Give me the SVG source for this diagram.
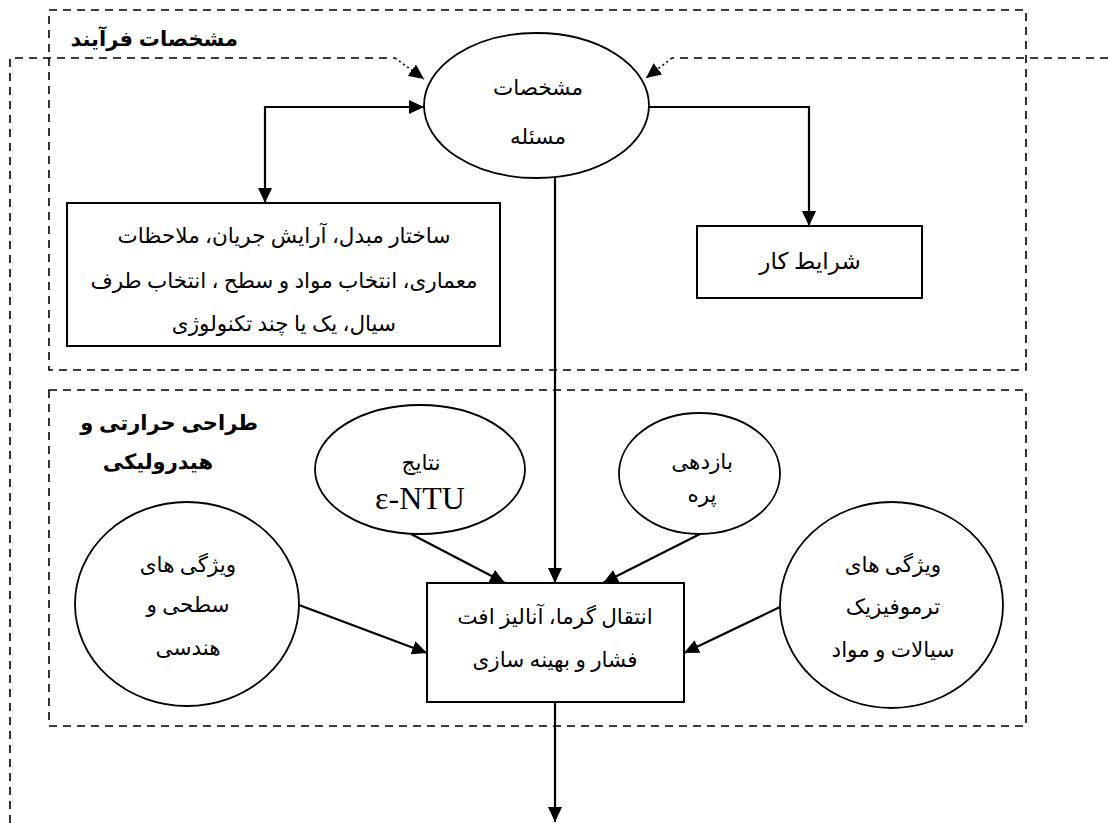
<svg xmlns="http://www.w3.org/2000/svg" width="1108" height="823" viewBox="0 0 1108 823">
<defs>
<style>
.dash{fill:none;stroke:#000;stroke-width:1.6;stroke-dasharray:8 6}
.dot{fill:none;stroke:#000;stroke-width:1.6;stroke-dasharray:2 3}
.conn{fill:none;stroke:#000;stroke-width:2.2}
.shape{fill:#fff;stroke:#000;stroke-width:1.8}
.box{fill:#fff;stroke:#000;stroke-width:2}
.t{font-family:"Liberation Serif","DejaVu Sans",serif;font-size:21.5px;fill:#000;text-anchor:middle;direction:rtl}
.title{font-family:"Liberation Sans","DejaVu Sans",sans-serif;font-size:21px;font-weight:bold;fill:#000;text-anchor:start;direction:rtl}
.lat{font-family:"Liberation Serif",serif;font-size:32px;fill:#000;text-anchor:middle}
</style>
<marker id="ah" markerUnits="userSpaceOnUse" markerWidth="16" markerHeight="14" refX="15" refY="7" orient="auto-start-reverse">
<path d="M0,0 L15,7 L0,14 z" fill="#000"/>
</marker>
</defs>
<rect width="1108" height="823" fill="#fff"/>

<g id="group-process">
<rect class="dash" x="49" y="10" width="977" height="360"/>
<text class="title" x="238" y="46">مشخصات فرآیند</text>
</g>
<g id="group-thermal">
<rect class="dash" x="49" y="390" width="977" height="336"/>
<text class="title" x="258" y="430">طراحی حرارتی و</text>
<text class="title" x="213" y="469">هیدرولیکی</text>
</g>

<g id="connectors">
<path class="dash" d="M10 823 L10 58 L395 58"/>
<path class="dot" d="M395 58 L424 79" marker-end="url(#ah)"/>
<path class="dash" d="M1108 58 L672 58"/>
<path class="dot" d="M672 58 L646 78" marker-end="url(#ah)"/>
<path class="conn" d="M424 107 L265 107 L265 203" marker-start="url(#ah)" marker-end="url(#ah)"/>
<path class="conn" d="M649 107 L809 107 L809 226" marker-end="url(#ah)"/>
<path class="conn" d="M555 178 L555 583" marker-end="url(#ah)"/>
<path class="conn" d="M411 534 L505 583" marker-end="url(#ah)"/>
<path class="conn" d="M700 534 L603 583" marker-end="url(#ah)"/>
<path class="conn" d="M299 605 L427 653" marker-end="url(#ah)"/>
<path class="conn" d="M780 607 L684 653" marker-end="url(#ah)"/>
<path class="conn" d="M555 702 L555 822" marker-end="url(#ah)"/>
</g>

<g id="node-problem">
<ellipse class="shape" cx="536.5" cy="105.5" rx="112.5" ry="72.5"/>
<text class="t" x="538" y="95">مشخصات</text>
<text class="t" x="538" y="144">مسئله</text>
</g>

<g id="node-structure">
<rect class="box" x="67" y="203" width="433" height="143"/>
<text class="t" x="284" y="243">ساختار مبدل، آرایش جریان، ملاحظات</text>
<text class="t" x="284" y="288">معماری، انتخاب مواد و سطح ، انتخاب طرف</text>
<text class="t" x="284" y="331">سیال، یک یا چند تکنولوژی</text>
</g>

<g id="node-conditions">
<rect class="box" x="697" y="226" width="225" height="72"/>
<text class="t" x="810" y="269" style="font-size:23px">شرایط کار</text>
</g>

<g id="node-entu">
<ellipse class="shape" cx="420" cy="469.5" rx="105" ry="64.5"/>
<text class="t" x="421" y="470">نتایج</text>
<text class="lat" x="420" y="509">ε-NTU</text>
</g>

<g id="node-fin">
<ellipse class="shape" cx="699.5" cy="473.5" rx="80.5" ry="60.5"/>
<text class="t" x="702" y="469">بازدهی</text>
<text class="t" x="702" y="502">پره</text>
</g>

<g id="node-surface">
<ellipse class="shape" cx="187" cy="604" rx="112" ry="102"/>
<text class="t" x="188" y="572">ویژگی های</text>
<text class="t" x="188" y="612">سطحی و</text>
<text class="t" x="188" y="655">هندسی</text>
</g>

<g id="node-thermo">
<ellipse class="shape" cx="891.5" cy="605" rx="111.5" ry="103"/>
<text class="t" x="893" y="572">ویژگی های</text>
<text class="t" x="893" y="614">ترموفیزیک</text>
<text class="t" x="893" y="657">سیالات و مواد</text>
</g>

<g id="node-analysis">
<rect class="box" x="427" y="583" width="257" height="119"/>
<text class="t" x="555" y="624">انتقال گرما، آنالیز افت</text>
<text class="t" x="555" y="667">فشار و بهینه سازی</text>
</g>
</svg>
